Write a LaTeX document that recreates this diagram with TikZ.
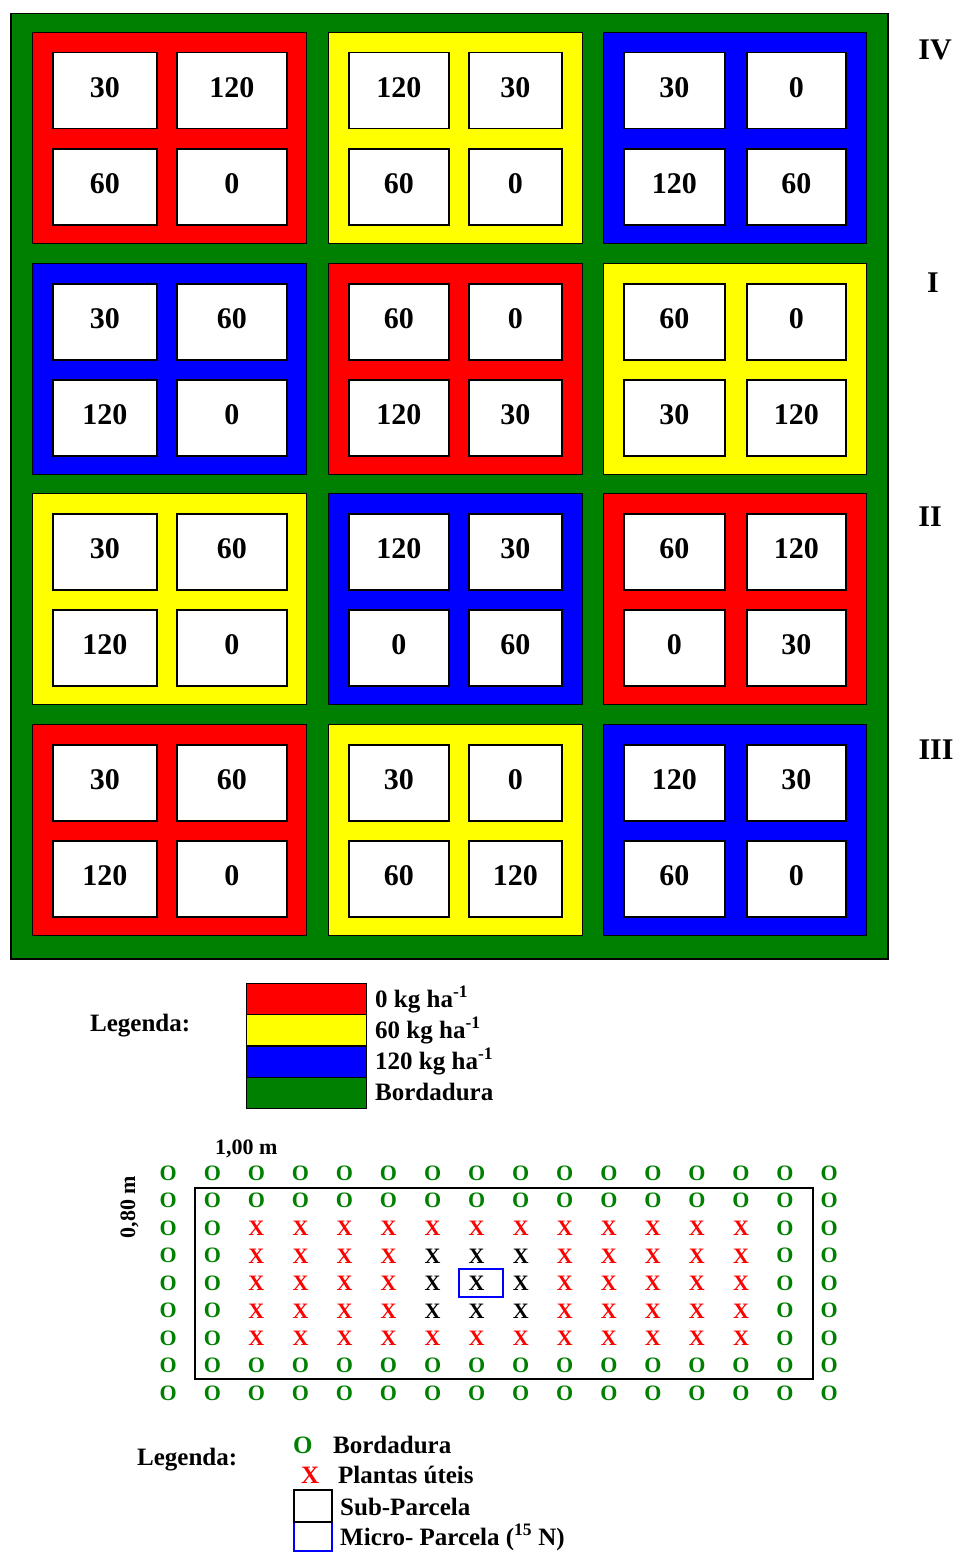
\documentclass[tikz,border=0pt]{standalone}
\usepackage{fontspec}
\setmainfont{Liberation Serif}
\usetikzlibrary{positioning}
\definecolor{Edge}{HTML}{008000}
\definecolor{Dose0}{HTML}{FF0000}
\definecolor{Dose60}{HTML}{FFFF00}
\definecolor{Dose120}{HTML}{0000FF}

\begin{document}
\begin{tikzpicture}[x=1pt,y=-1pt,
 blk/.style={draw=black,line width=1.2pt,anchor=north west,inner sep=0pt,minimum height=211pt},
 cell/.style={draw=black,line width=1.5pt,fill=white,anchor=north west,inner sep=0pt,minimum height=76pt,text depth=6pt,font=\fontsize{30}{36}\selectfont\bfseries},
 rep/.style={inner sep=0pt,font=\fontsize{30}{36}\selectfont\bfseries},
 key/.style={draw=black,line width=1.2pt,anchor=north west,inner sep=0pt,minimum width=120pt,minimum height=31pt},
 txt/.style={anchor=base west,inner sep=0pt,font=\fontsize{25}{30}\selectfont\bfseries},
 dim/.style={inner sep=0pt,font=\fontsize{22}{26}\selectfont\bfseries},
 plant/.style={inner sep=0pt,font=\fontsize{22}{26}\selectfont\bfseries}
]
\useasboundingbox (0,0) rectangle (957,1552);
% field with border rows
\node[draw=black,line width=1.5pt,fill=Edge,anchor=north west,inner sep=0pt,minimum width=877pt,minimum height=945pt] (field) at (10,13) {};
% main plots and sub-plots
\foreach \r/\c/\fc/\na/\nb/\nc/\nd in {
 0/0/Dose0/30/120/60/0, 0/1/Dose60/120/30/60/0, 0/2/Dose120/30/0/120/60,
 1/0/Dose120/30/60/120/0, 1/1/Dose0/60/0/120/30, 1/2/Dose60/60/0/30/120,
 2/0/Dose60/30/60/120/0, 2/1/Dose120/120/30/0/60, 2/2/Dose0/60/120/0/30,
 3/0/Dose0/30/60/120/0, 3/1/Dose60/30/0/60/120, 3/2/Dose120/120/30/60/0}{
 \pgfmathsetmacro\bx{{32,328,603}[\c]}
 \pgfmathsetmacro\bw{{274,254,263}[\c]}
 \pgfmathsetmacro\lx{{52,348,623}[\c]}
 \pgfmathsetmacro\lw{{104,100,101}[\c]}
 \pgfmathsetmacro\rx{{176,468,746}[\c]}
 \pgfmathsetmacro\rw{{110,93,99}[\c]}
 \pgfmathsetmacro\by{{32,263,493,724}[\r]}
 \node[blk,fill=\fc,minimum width=\bw pt] (b\r\c) at (\bx,\by) {};
 \node[cell,minimum width=\lw pt] (s\r\c a) at (\lx,\by+20) {\na};
 \node[cell,minimum width=\rw pt] (s\r\c b) at (\rx,\by+20) {\nb};
 \node[cell,minimum width=\lw pt] (s\r\c c) at (\lx,\by+116) {\nc};
 \node[cell,minimum width=\rw pt] (s\r\c d) at (\rx,\by+116) {\nd};
}
% blocks
\node[rep] (rIV) at (935,50) {IV};
\node[rep] (rI) at (933,283) {I};
\node[rep] (rII) at (930,517) {II};
\node[rep] (rIII) at (936,750) {III};
% legend of doses
\node[txt] (leg1) at (90,1031) {Legenda:};
\node[key,fill=Dose0] (k0) at (246,983) {};
\node[key,fill=Dose60] (k60) at (246,1014) {};
\node[key,fill=Dose120] (k120) at (246,1045.5) {};
\node[key,fill=Edge] (kB) at (246,1077) {};
\node[txt] (t0) at (375,1007) {0 kg ha\textsuperscript{-1}};
\node[txt] (t60) at (375,1038) {60 kg ha\textsuperscript{-1}};
\node[txt] (t120) at (375,1069) {120 kg ha\textsuperscript{-1}};
\node[txt] (tB) at (375,1100.5) {Bordadura};
% sub-plot detail
\node[dim,anchor=base west] (dx) at (215,1154) {1,00 m};
\node[dim,rotate=90] (dy) at (129.5,1207) {0,80 m};
\node[draw=black,line width=2pt,anchor=north west,inner sep=0pt,minimum width=618pt,minimum height=191pt] (sub) at (194,1187) {};
\foreach \r in {0,...,8}{
 \foreach \c in {0,...,15}{
  \pgfmathtruncatemacro\isx{and(and(\r>1,\r<7),and(\c>1,\c<14))}
  \pgfmathtruncatemacro\isk{and(and(\r>2,\r<6),and(\c>5,\c<9))}
  \def\pltsym{O}\def\pltcol{Edge}
  \ifnum\isx=1 \def\pltsym{X}\def\pltcol{Dose0}\fi
  \ifnum\isk=1 \def\pltcol{black}\fi
  \node[plant,text=\pltcol] (p\r-\c) at ({168.3+44.05*\c},{1173.3+27.5*\r}) {\pltsym};
 }
}
\node[draw=Dose120,line width=2pt,inner sep=0pt,minimum width=44pt,minimum height=28pt] (micro) at ([xshift=4pt]p4-7.center) {};
% legend of plants
\node[txt] (leg2) at (137,1465) {Legenda:};
\node[txt,text=Edge] (sO) at (293,1453) {O};
\node[txt] (tO) at (333,1453) {Bordadura};
\node[txt,text=Dose0] (sX) at (301,1483) {X};
\node[txt] (tX) at (338,1483) {Plantas úteis};
\node[draw=Dose120,line width=2pt,anchor=north west,inner sep=0pt,minimum width=38pt,minimum height=29pt] (sMic) at (293,1521) {};
\node[draw=black,line width=1.8pt,anchor=north west,inner sep=0pt,minimum width=38pt,minimum height=32pt] (sSub) at (293,1489) {};
\node[txt] (tSub) at (340,1515) {Sub-Parcela};
\node[txt] (tMic) at (340,1545) {Micro- Parcela (\textsuperscript{15} N)};
\end{tikzpicture}
\end{document}
